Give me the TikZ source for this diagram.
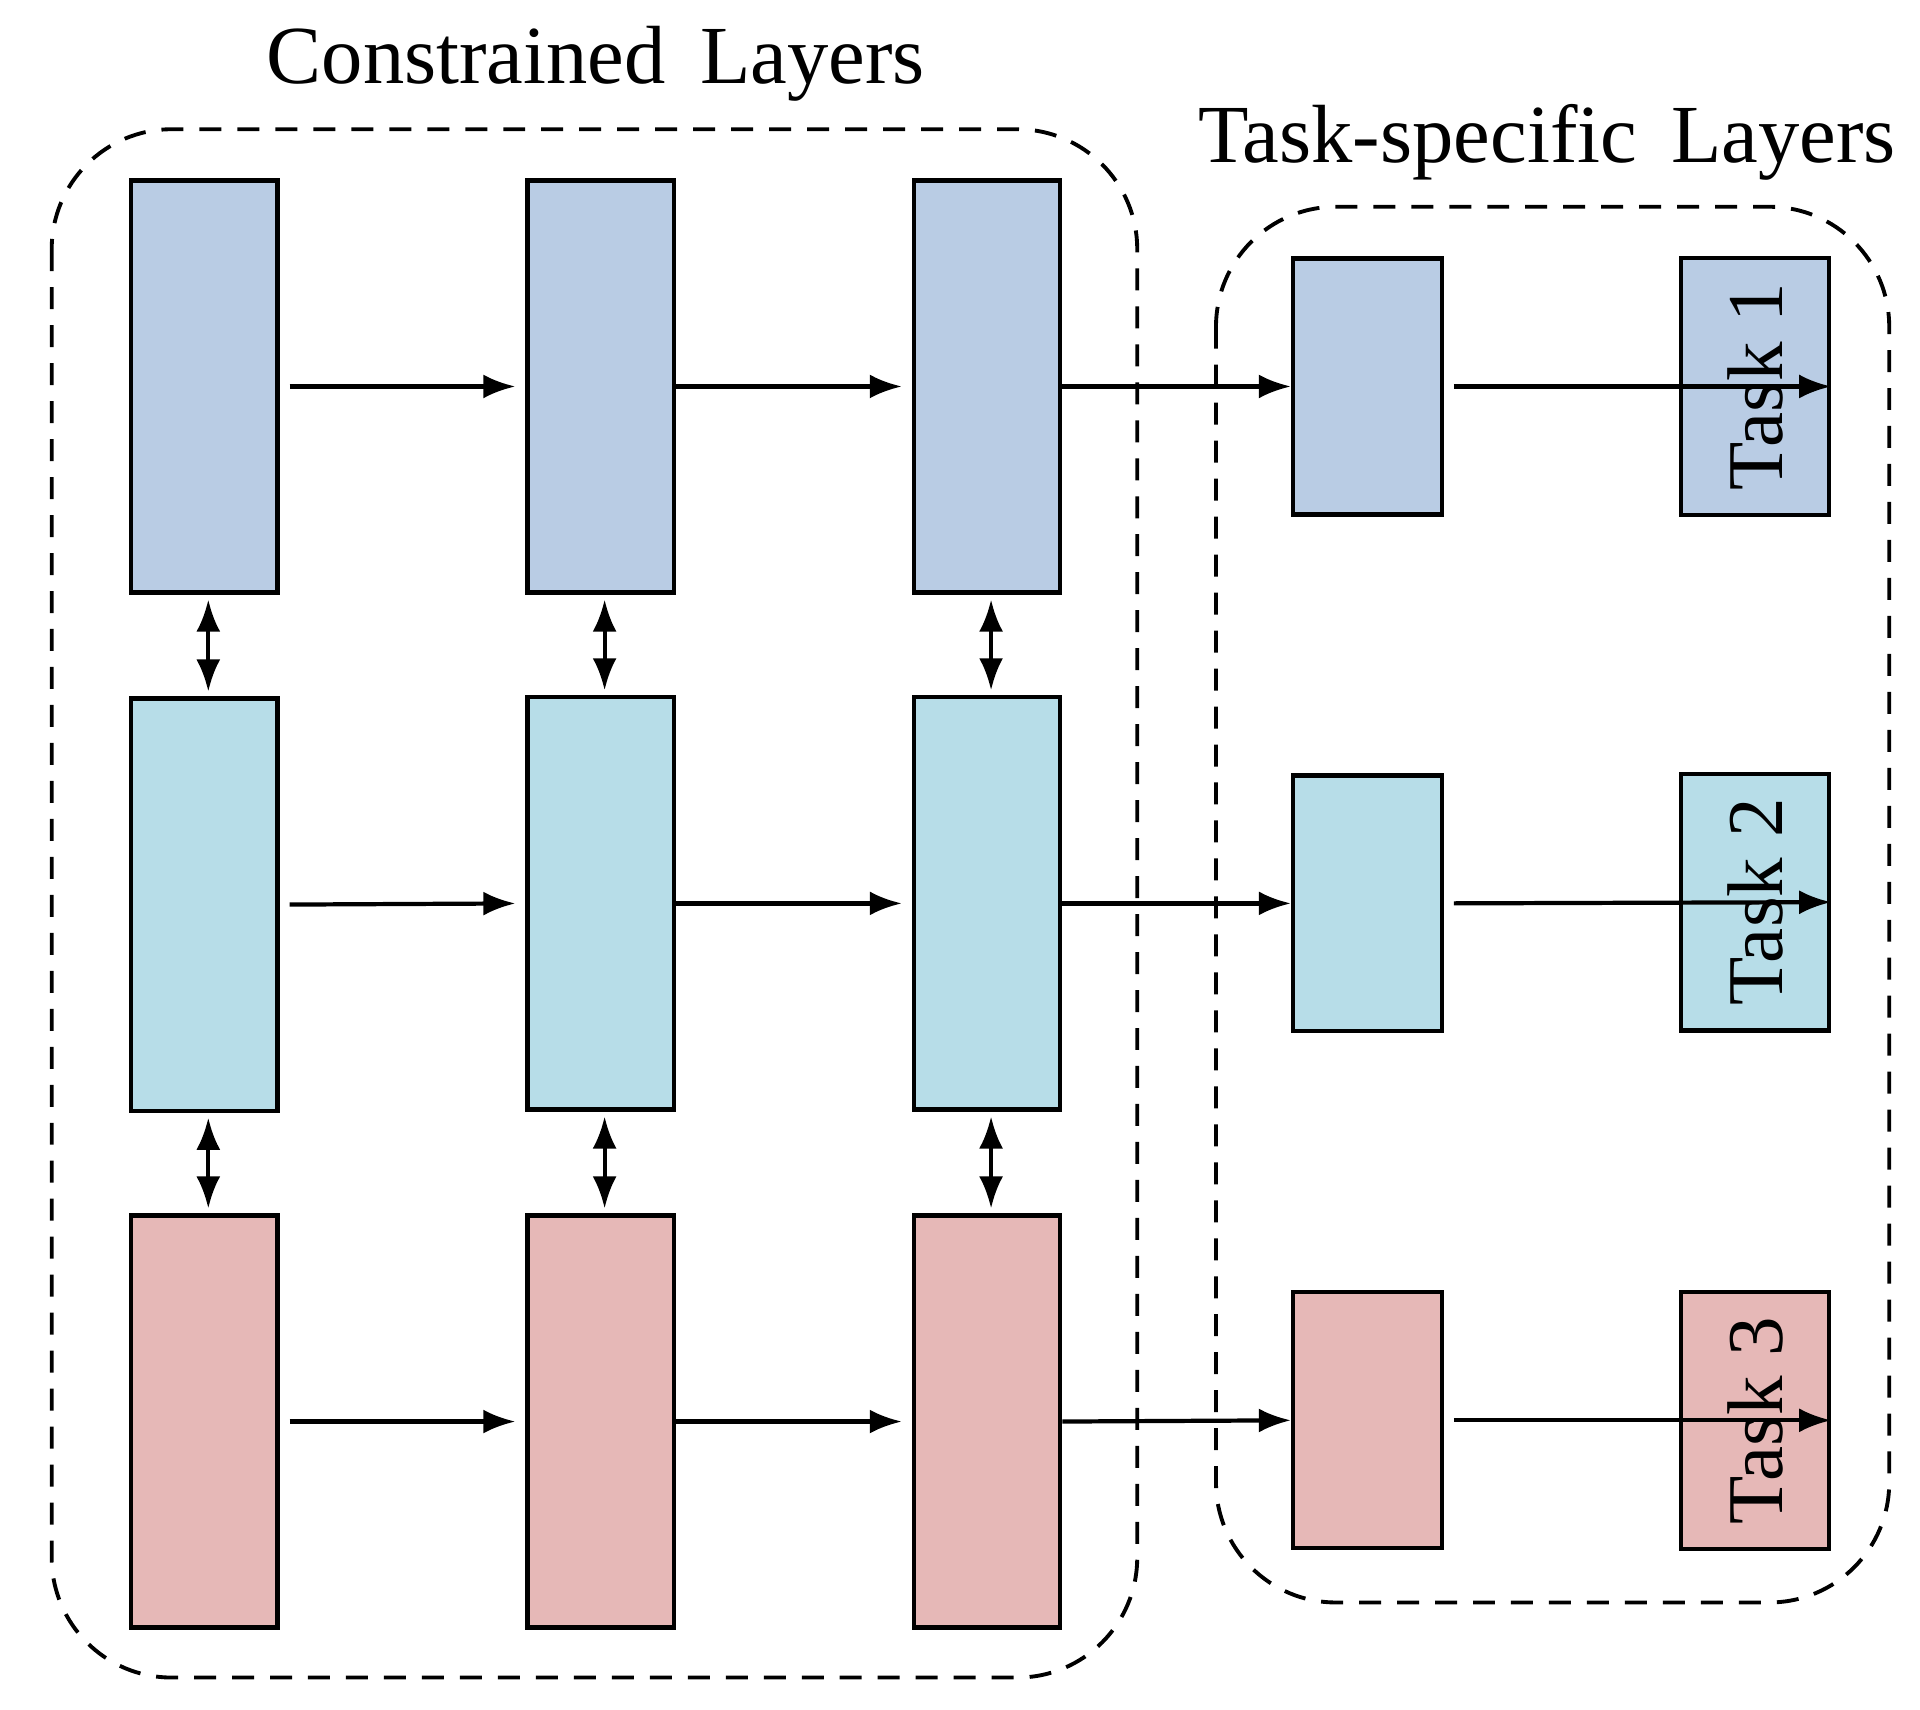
\documentclass[tikz,border=0pt]{standalone}
\usepackage{fontspec}
\setmainfont{Liberation Serif}
\usetikzlibrary{positioning}
\usetikzlibrary{arrows.meta}
\definecolor{layerblue}{HTML}{B9CCE4}
\definecolor{layercyan}{HTML}{B7DDE8}
\definecolor{layerpink}{HTML}{E6B8B7}
\tikzset{
  layer/.style={draw, line width=1.2pt, minimum width=1.465cm, minimum height=4.123cm, inner sep=0pt},
  head/.style={draw, line width=1.2pt, minimum width=1.49cm, minimum height=2.56cm, inner sep=0pt},
  task/.style={draw, line width=1.2pt, minimum width=2.57cm, minimum height=1.48cm, inner sep=0pt,
    font=\fontsize{22.5}{22.5}\selectfont, rotate=90},
  flow/.style={line width=1.2pt, -{Latex[length=3.2mm,width=2.4mm]}, shorten >=1mm},
  link/.style={line width=1.2pt, {Latex[length=3.2mm,width=2.4mm]}-{Latex[length=3.2mm,width=2.4mm]}, shorten >=0.5mm, shorten <=0.5mm},
  group/.style={draw, line width=1.1pt, dash pattern=on 2.2mm off 1.6mm, rounded corners=1.2cm}
}
\begin{document}
\begin{tikzpicture}[x=0.012308cm, y=-0.012308cm]
\useasboundingbox (0,0) rectangle (1560,1389);
% containers
\draw[group] (42,105) rectangle (924,1363);
\draw[group] (988,168) rectangle (1535,1302);
\node[font=\fontsize{23.5}{23.5}\selectfont] (tcon) at (484,52) {Constrained\, Layers};
\node[font=\fontsize{23.5}{23.5}\selectfont] (ttask) at (1257,116) {Task-specific\, Layers};

% constrained layers
\node[layer, fill=layerblue] (a1) at (166,314) {};
\node[layer, fill=layerblue] (a2) at (488,314) {};
\node[layer, fill=layerblue] (a3) at (802,314) {};
\node[layer, fill=layercyan] (b1) at (166,735) {};
\node[layer, fill=layercyan] (b2) at (488,734) {};
\node[layer, fill=layercyan] (b3) at (802,734) {};
\node[layer, fill=layerpink] (c1) at (166,1155) {};
\node[layer, fill=layerpink] (c2) at (488,1155) {};
\node[layer, fill=layerpink] (c3) at (802,1155) {};

% task-specific layers
\node[head, fill=layerblue] (h1) at (1111,314) {};
\node[head, fill=layercyan] (h2) at (1111,734) {};
\node[head, fill=layerpink] (h3) at (1111,1154) {};
\node[task, fill=layerblue] (t1) at (1426,314) {Task 1};
\node[task, fill=layercyan] (t2) at (1426,733) {Task 2};
\node[task, fill=layerpink] (t3) at (1426,1154) {Task 3};

% connectors
\foreach \r in {a,b,c}{
  \draw[flow, shorten <=1mm] (\r1.east) -- (\r2.west);
  \draw[flow] (\r2.east) -- (\r3.west);
}
\foreach \i in {1,2,3}{
  \draw[flow, shorten >=0mm] (\ifcase\i\or a\or b\or c\fi3.east) -- (h\i.west);
  \draw[flow, shorten >=0mm, shorten <=1mm] (h\i.east) -- (t\i.south);
}
\foreach \k in {1,2,3}{
  \draw[link] ([xshift=0.04cm]a\k.south) -- ([xshift=0.04cm]b\k.north);
  \draw[link] ([xshift=0.04cm]b\k.south) -- ([xshift=0.04cm]c\k.north);
}
\end{tikzpicture}
\end{document}
